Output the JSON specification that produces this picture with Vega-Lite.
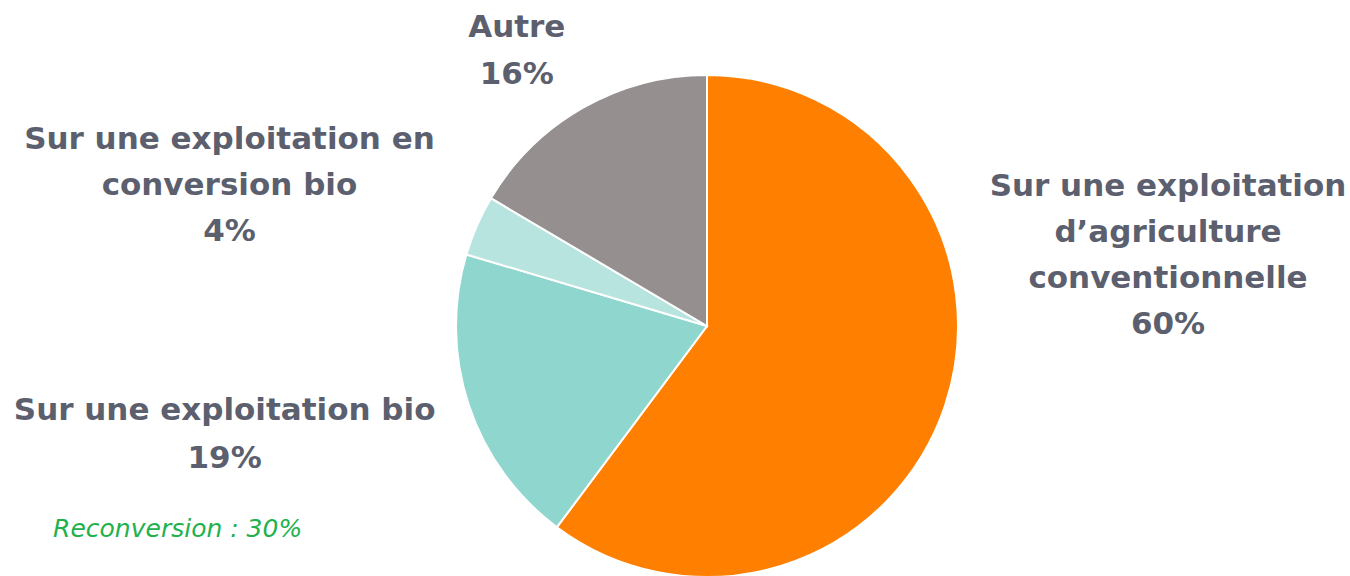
{
  "$schema": "https://vega.github.io/schema/vega-lite/v6.json",
  "autosize": {"type": "none"},
  "width": 502,
  "height": 502,
  "padding": {"left": 456, "top": 75, "right": 392, "bottom": 0},
  "background": "white",
  "config": {"view": {"stroke": null}},
  "data": {
    "values": [
      {"ordre": 1, "categorie": "Sur une exploitation\nd’agriculture\nconventionnelle", "valeur": 60.2, "label": "60%"},
      {"ordre": 2, "categorie": "Sur une exploitation bio", "valeur": 19.4, "label": "19%"},
      {"ordre": 3, "categorie": "Sur une exploitation en\nconversion bio", "valeur": 3.9, "label": "4%"},
      {"ordre": 4, "categorie": "Autre", "valeur": 16.5, "label": "16%"}
    ]
  },
  "transform": [
    {"stack": "valeur", "groupby": [], "sort": [{"field": "ordre", "order": "ascending"}], "as": ["v0", "v1"]},
    {"calculate": "datum.categorie + '\\n' + datum.label", "as": "texte"}
  ],
  "layer": [
    {
      "mark": {"type": "arc", "stroke": "white", "strokeWidth": 2},
      "encoding": {
        "theta": {"field": "v0", "type": "quantitative", "scale": {"domain": [0, 100]}},
        "theta2": {"field": "v1"},
        "color": {
          "field": "categorie", "type": "nominal", "legend": null,
          "scale": {
            "domain": ["Sur une exploitation\nd’agriculture\nconventionnelle", "Sur une exploitation bio", "Sur une exploitation en\nconversion bio", "Autre"],
            "range": ["#FF7F00", "#8FD6CE", "#B7E4DF", "#968F8F"]
          }
        }
      }
    },
    {
      "transform": [{"filter": "datum.ordre == 1"}],
      "mark": {"type": "text", "radius": 300, "dx": 461, "dy": 161, "font": "DejaVu Sans", "fontWeight": "bold", "fontSize": 31, "lineHeight": 46, "color": "#5C5F6E", "align": "center", "baseline": "middle", "lineBreak": "\n"},
      "encoding": {"theta": {"field": "v0", "type": "quantitative"}, "text": {"field": "texte"}}
    },
    {
      "transform": [{"filter": "datum.ordre == 2"}],
      "mark": {"type": "text", "radius": 300, "dx": -303, "dy": -155, "font": "DejaVu Sans", "fontWeight": "bold", "fontSize": 31, "lineHeight": 48, "color": "#5C5F6E", "align": "center", "baseline": "middle", "lineBreak": "\n"},
      "encoding": {"theta": {"field": "v0", "type": "quantitative"}, "text": {"field": "texte"}}
    },
    {
      "transform": [{"filter": "datum.ordre == 3"}],
      "mark": {"type": "text", "radius": 300, "dx": -190, "dy": -100, "font": "DejaVu Sans", "fontWeight": "bold", "fontSize": 31, "lineHeight": 46, "color": "#5C5F6E", "align": "center", "baseline": "middle", "lineBreak": "\n"},
      "encoding": {"theta": {"field": "v0", "type": "quantitative"}, "text": {"field": "texte"}}
    },
    {
      "transform": [{"filter": "datum.ordre == 4"}],
      "mark": {"type": "text", "radius": 300, "dx": 68, "dy": -145, "font": "DejaVu Sans", "fontWeight": "bold", "fontSize": 31, "lineHeight": 47, "color": "#5C5F6E", "align": "center", "baseline": "middle", "lineBreak": "\n"},
      "encoding": {"theta": {"field": "v0", "type": "quantitative"}, "text": {"field": "texte"}}
    },
    {
      "transform": [{"filter": "datum.ordre == 2"}],
      "mark": {"type": "text", "radius": 300, "dx": -350, "dy": -37, "font": "DejaVu Sans", "fontStyle": "italic", "fontSize": 25, "color": "#22B14C", "align": "center", "baseline": "middle"},
      "encoding": {"theta": {"field": "v0", "type": "quantitative"}, "text": {"value": "Reconversion : 30%"}}
    }
  ]
}
